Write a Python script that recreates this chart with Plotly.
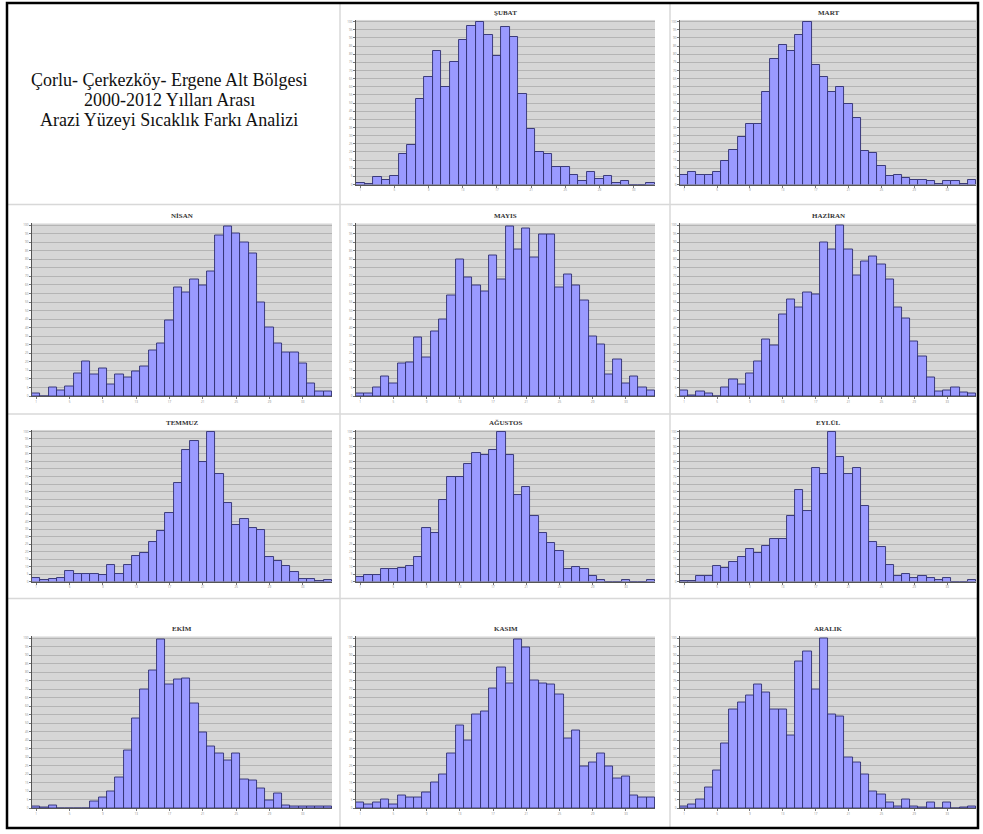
import plotly.graph_objects as go

W, H = 983, 834

# Month names (panel titles)
months = ["ŞUBAT", "MART", "NİSAN", "MAYIS", "HAZİRAN", "TEMMUZ",
          "AĞUSTOS", "EYLÜL", "EKİM", "KASIM", "ARALIK"]

title_lines = ["Çorlu- Çerkezköy- Ergene Alt Bölgesi",
               "2000-2012 Yılları Arası",
               "Arazi Yüzeyi Sıcaklık Farkı Analizi"]

# Relative frequencies (% of each panel's max)
subat = [1, 0.5, 4.5, 3, 5.5, 19, 24, 52.5, 66, 82, 60, 75, 88.5, 97.5, 99.5, 92, 79, 97,
         90.5, 55.5, 34, 20, 19, 10.5, 10.5, 6, 2, 7.5, 3.5, 5.5, 1, 2, 0, 0, 0.8]
mart = [6, 8, 6, 6, 7.5, 14.5, 21.5, 29.5, 37, 37, 57, 77, 85.5, 82, 92, 100, 73.5, 66,
        57, 60, 49.5, 41, 20.5, 19.5, 11.5, 5, 6, 4, 3, 3, 2.5, 0.5, 2, 2, 0.5, 3]
nisan = [1.5, 0, 5, 3.5, 5.5, 13.5, 20, 12.5, 16, 6.5, 12.5, 11, 14.5, 17.5, 26.5, 31,
         44, 63.5, 60.5, 68, 65, 73, 94, 99.5, 95, 90, 83.5, 55, 40, 30.5, 25.5, 25.5,
         19, 7.5, 2.5, 2.5]
mayis = [1.5, 1.5, 5, 11.5, 7.5, 19, 19.5, 34, 22.5, 38, 45, 59, 80, 69.5, 65, 61, 82,
         68, 99.5, 86, 98, 81, 94.5, 94.5, 63.5, 71, 65, 56, 35, 30, 12.5, 21.5, 7.5,
         11.5, 5, 3]
haziran = [3, 0.5, 2.5, 1.5, 0, 5, 10, 7, 13, 20.5, 33, 29.5, 47.5, 56.5, 52, 60.5,
           59.5, 90, 85.5, 100, 86, 70.5, 79, 81.5, 77, 68.5, 52, 45.5, 32, 23, 11,
           2.5, 3.5, 5, 2, 1.5]
temmuz = [2.5, 1, 2, 2.5, 7, 5, 5, 5, 4.5, 11, 5, 11, 17, 19, 26.5, 34, 46, 65.5, 87.5,
          94, 79.5, 100, 72, 52.5, 37.5, 41.5, 35.5, 34.5, 16.5, 14, 10.5, 6.5, 1.5, 2,
          0.5, 1]
agustos = [3, 4.5, 4.5, 8.5, 8.5, 9, 10.5, 16.5, 36, 32.5, 54.5, 69.5, 70, 78.5, 86,
           84.5, 87.5, 100, 84.5, 58, 63, 44, 32.5, 25.5, 20.5, 8.5, 10, 8.5, 4, 1, 0,
           0, 1, 0, 0, 1]
eylul = [0.5, 0.5, 3.5, 4, 10.5, 9, 13, 16.5, 21.5, 19, 23.5, 28.5, 28.5, 43.5, 61, 47,
         75.5, 72, 100, 83, 72, 75.5, 50.5, 26.5, 23, 11, 4, 5, 2.5, 3.5, 2.5, 1, 2.5,
         0, 0, 1]
ekim = [1, 0.5, 1.5, 0, 0, 0, 0, 4, 6, 9.5, 18, 34, 53, 70, 81, 99.5, 72.5, 75.5, 76.5,
        61.5, 44.5, 36, 32, 28, 32, 17, 16, 11.5, 4.5, 8.5, 1.5, 1, 1, 1, 1, 1]
kasim = [3.5, 2, 3, 5, 2, 7.5, 6.5, 6.5, 9, 15, 19.5, 32, 48.5, 40, 55, 57, 70.5, 82.5,
         73.5, 99.5, 94.5, 75, 73.5, 72.5, 67, 41, 45.5, 24.5, 27, 32, 24.5, 17.5,
         18.5, 7.5, 6.5, 6.5]
aralik = [1, 2, 5, 12, 22, 38, 58, 62, 66, 73, 68, 58, 58, 43, 86, 92, 70, 100, 55, 54,
          30, 27, 20, 10, 8, 3, 1, 5, 1, 0.5, 3, 0, 3, 0, 0.5, 1]

series = [subat, mart, nisan, mayis, haziran, temmuz, agustos, eylul, ekim, kasim, aralik]

# Panel plot areas in pixels
col_x = [(32, 332), (356, 655), (680, 976)]
row_y = [(20, 185), (224, 397), (431, 583), (638, 810)]

BAR_FILL = "#9a9aff"
BAR_LINE = "#2e2e6e"
PLOT_BG = "#d6d6d6"
GRID = "#b4b4b4"

fig = go.Figure()
layout = dict(
    width=W, height=H,
    margin=dict(l=0, r=0, t=0, b=0),
    paper_bgcolor="white",
    plot_bgcolor=PLOT_BG,
    showlegend=False,
    bargap=0,
    annotations=[],
    shapes=[],
)


def px_x(v):
    return v / W


def px_y(v):
    return 1 - v / H


for k, (name, vals) in enumerate(zip(months, series)):
    p = k + 1
    r, c = divmod(p, 3)
    x0, x1 = col_x[c]
    y0, y1 = row_y[r]
    ax = "" if k == 0 else str(k + 1)
    n = len(vals)
    fig.add_trace(go.Bar(
        x=list(range(1, n + 1)), y=vals,
        xaxis="x" + ax, yaxis="y" + ax,
        marker=dict(color=BAR_FILL, line=dict(color=BAR_LINE, width=0.9)),
        width=1.0,
    ))
    tickvals = list(range(1, n + 1, 4))
    layout["xaxis" + ax] = dict(
        domain=[px_x(x0), px_x(x1)], anchor="y" + ax,
        range=[0.5, n + 0.5], showgrid=False, zeroline=False,
        showline=True, linecolor="#555555", linewidth=1,
        ticks="outside", ticklen=2, tickcolor="#777777",
        tickvals=tickvals, ticktext=[str(t) for t in tickvals],
        tickfont=dict(size=3, color="#888888"),
    )
    layout["yaxis" + ax] = dict(
        domain=[px_y(y1), px_y(y0)], anchor="x" + ax,
        range=[0, 101], dtick=5, showgrid=True, gridcolor=GRID, gridwidth=0.7,
        zeroline=False, showline=True, linecolor="#555555", linewidth=1,
        ticks="outside", ticklen=2, tickcolor="#777777",
        tickfont=dict(size=3, color="#888888"),
    )
    layout["annotations"].append(dict(
        text="<b>" + name + "</b>", xref="paper", yref="paper",
        x=px_x((x0 + x1) / 2), y=px_y(y0 - 7), showarrow=False,
        font=dict(family="Liberation Serif", size=7, color="#333333"),
        xanchor="center", yanchor="middle",
    ))

# Title block in the first cell
for i, line in enumerate(title_lines):
    layout["annotations"].append(dict(
        text=line, xref="paper", yref="paper",
        x=px_x(169), y=px_y(80 + i * 20), showarrow=False,
        font=dict(family="Liberation Serif", size=18, color="#111111"),
        xanchor="center", yanchor="middle",
    ))

# Cell dividers
for yy in (205, 415, 600):
    layout["shapes"].append(dict(type="line", xref="paper", yref="paper",
                                 x0=px_x(7), x1=px_x(978), y0=px_y(yy), y1=px_y(yy),
                                 line=dict(color="#d8d8d8", width=1.5)))
for xx in (340, 670):
    layout["shapes"].append(dict(type="line", xref="paper", yref="paper",
                                 x0=px_x(xx), x1=px_x(xx), y0=px_y(3), y1=px_y(830),
                                 line=dict(color="#d8d8d8", width=1.5)))
# Outer frame
layout["shapes"].append(dict(type="rect", xref="paper", yref="paper",
                             x0=px_x(7), x1=px_x(978), y0=px_y(830), y1=px_y(3),
                             line=dict(color="black", width=2.5)))

fig.update_layout(**layout)
fig.write_html("out.html", config={"displayModeBar": False},
               post_script="document.body.style.margin='0';document.body.style.overflow='hidden';")
